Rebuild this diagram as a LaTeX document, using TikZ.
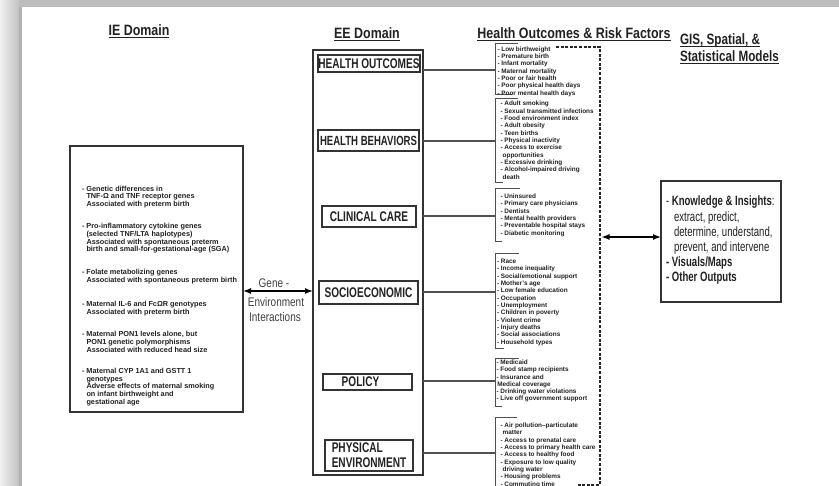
\documentclass[tikz,border=0pt]{standalone}
\usepackage{fontspec}
\setmainfont{Liberation Sans}
\newfontfamily\fT[FakeStretch=0.83]{Liberation Sans}
\newfontfamily\fG[FakeStretch=0.78]{Liberation Sans}
\newfontfamily\fE[FakeStretch=0.72]{Liberation Sans}
\newfontfamily\fK[FakeStretch=0.71]{Liberation Sans}
\newfontfamily\fN[FakeStretch=0.8]{Liberation Sans}
\usetikzlibrary{arrows.meta}
\definecolor{ink}{HTML}{222222}
\definecolor{edge}{HTML}{333333}
\definecolor{conn}{HTML}{505050}
\newcommand\myul[1]{\setbox0\hbox{#1}\rlap{\box0}\setbox0\hbox{#1}\rule[-2.2pt]{\wd0}{0.9pt}}
\newcommand\riskList[4]{%
  \foreach \o/\txt [count=\k] in {#4}{%
    \node[lst] (#1\k) at ({#2+\o}, {#3+(\k-1)*7.33}) {\txt};}}
\begin{document}
\begin{tikzpicture}[x=1pt,y=-1pt,
 every node/.style={inner sep=0pt,outer sep=0pt,text=ink},
 ttl/.style={font=\fT\bfseries\fontsize{15}{17}\selectfont, anchor=base},
 eeout/.style={draw=edge,line width=1.6pt},
 eein/.style={draw=edge,line width=1.3pt,font=\fE\bfseries\fontsize{14}{15}\selectfont},
 iebx/.style={draw=edge,line width=1.6pt},
 ietx/.style={font=\bfseries\fontsize{7.3}{8}\selectfont, anchor=mid west},
 lst/.style={font=\bfseries\fontsize{6.4}{7}\selectfont, anchor=mid west},
 cn/.style={draw=conn,line width=1.3pt},
 brk/.style={draw=conn,line width=1pt},
 dsh/.style={draw=black!85,line width=1.8pt,dash pattern=on 3pt off 1.6pt},
 kbx/.style={draw=edge,line width=2pt},
 ktx/.style={font=\fK\fontsize{13.5}{15}\selectfont, anchor=mid west},
 gn/.style={font=\fN\fontsize{12.5}{14}\selectfont, text=black!75},
 dar/.style={draw=black,line width=1.4pt,{Latex[length=8pt,width=6pt]}-{Latex[length=8pt,width=6pt]}},
]
\useasboundingbox (0,0) rectangle (839,486);
% background frame
\fill[white] (0,0) rectangle (839,486);
\shade[left color=black!6, right color=black!24] (0,0) rectangle (19,486);
\fill[black!30] (19,0) rectangle (22,486);
\fill[black!26] (19,0) rectangle (839,7);

% titles
\node[ttl] (tIE) at (139,36) {\myul{IE Domain}};
\node[ttl] (tEE) at (367,39) {\myul{EE Domain}};
\node[ttl] (tHO) at (574,39) {\myul{Health Outcomes \& Risk Factors}};
\node[ttl, font=\fG\bfseries\fontsize{15}{17}\selectfont, anchor=base west] (tG1) at (680,45) {\myul{GIS, Spatial, \&}};
\node[ttl, font=\fG\bfseries\fontsize{15}{17}\selectfont, anchor=base west] (tG2) at (680,62) {\myul{Statistical Models}};

% IE box
\node[iebx, minimum width=173pt, minimum height=266pt] (ie) at (156.5,279) {};
\foreach \yy/\xx/\txt [count=\k] in {
 188.5/82/{- Genetic differences in},
 196.2/86.5/{TNF-Ω and TNF receptor genes},
 203.9/86.5/{Associated with preterm birth},
 226/82/{- Pro-inflammatory cytokine genes},
 233.7/86.5/{(selected TNF/LTA haplotypes)},
 241.4/86.5/{Associated with spontaneous preterm},
 249.1/86.5/{birth and small-for-gestational-age (SGA)},
 272/82/{- Folate metabolizing genes},
 279.7/86.5/{Associated with spontaneous preterm birth},
 304/82/{- Maternal IL-6 and FcΩR genotypes},
 311.7/86.5/{Associated with preterm birth},
 334/82/{- Maternal PON1 levels alone, but},
 341.7/86.5/{PON1 genetic polymorphisms},
 349.4/86.5/{Associated with reduced head size},
 371/82/{- Maternal CYP 1A1 and GSTT 1},
 378.6/86.5/{genotypes},
 386.2/86.5/{Adverse effects of maternal smoking},
 393.8/86.5/{on infant birthweight and},
 401.4/86.5/{gestational age}}
 {\node[ietx] (iet\k) at (\xx,\yy) {\txt};}

% EE box
\node[eeout, minimum width=110pt, minimum height=425pt] (ee) at (368,262.5) {};
\node[eein, minimum width=102pt, minimum height=17pt] (ho) at (369,63.5) {HEALTH OUTCOMES};
\node[eein, minimum width=101pt, minimum height=21pt, font=\fE\bfseries\fontsize{13.3}{15}\selectfont] (hb) at (368.5,140.5) {HEALTH BEHAVIORS};
\node[eein, minimum width=94pt, minimum height=21pt] (cc) at (369,216.5) {CLINICAL CARE};
\node[eein, minimum width=99pt, minimum height=23pt] (se) at (368.5,292.5) {SOCIOECONOMIC};
\node[eein, minimum width=89pt, minimum height=16pt] (po) at (367.5,382) {POLICY\hspace*{14pt}};
\node[eein, minimum width=88pt, minimum height=31pt, align=left] (pe) at (369,455.5) {PHYSICAL\\ENVIRONMENT};

% bracket anchor points and connectors
\coordinate (b1) at (495,70);
\coordinate (b2) at (495,141);
\coordinate (b3) at (495,216);
\coordinate (b4) at (495,292);
\coordinate (b5) at (495,381);
\coordinate (b6) at (495,453);
\foreach \i in {1,...,6}{\draw[cn] (ee.east |- b\i) -- (b\i);}

% brackets
\draw[brk] (518,44) -- (495,44) -- (495,95) -- (512,95);
\draw[brk] (518,99) -- (495,99) -- (495,182.7) -- (503,182.7);
\draw[brk] (520,188.3) -- (495,188.3) -- (495,241.7) -- (502,241.7);
\draw[brk] (519,254) -- (495,254) -- (495,348.3) -- (504,348.3);
\draw[brk] (519,358.3) -- (495,358.3) -- (495,406.7) -- (502,406.7);
\draw[brk] (517,417.3) -- (495,417.3) -- (495,490);

% dashed frame
\draw[dsh] (556,47) -- (600,47) -- (600,485) -- (578,485);

% lists
\riskList{lho}{497.5}{48.5}{0/{- Low birthweight},0/{- Premature birth},0/{- Infant mortality},0/{- Maternal mortality},0/{- Poor or fair health},0/{- Poor physical health days},0/{- Poor mental health days}}
\riskList{lhb}{500.5}{103.3}{0/{- Adult smoking},0/{- Sexual transmitted infections},0/{- Food environment index},0/{- Adult obesity},0/{- Teen births},0/{- Physical inactivity},0/{- Access to exercise},2.2/{opportunities},0/{- Excessive drinking},0/{- Alcohol-impaired driving},2.2/{death}}
\riskList{lcc}{500.5}{196}{0/{- Uninsured},0/{- Primary care physicians},0/{- Dentists},0/{- Mental health providers},0/{- Preventable hospital stays},0/{- Diabetic monitoring}}
\riskList{lse}{497}{261}{0/{- Race},0/{- Income inequality},0/{- Social/emotional support},0/{- Mother's age},0/{- Low female education},0/{- Occupation},0/{- Unemployment},0/{- Children in poverty},0/{- Violent crime},0/{- Injury deaths},0/{- Social associations},0/{- Household types}}
\riskList{lpo}{496.5}{361.7}{0/{- Medicaid},0/{- Food stamp recipients},0/{- Insurance and},0.8/{Medical coverage},0/{- Drinking water violations},0/{- Live off government support}}
\riskList{lpe}{500.5}{425}{0/{- Air pollution--particulate},2.2/{matter},0/{- Access to prenatal care},0/{- Access to primary health care},0/{- Access to healthy food},0/{- Exposure to low quality},2.2/{driving water},0/{- Housing problems},0/{- Commuting time}}

% knowledge box
\node[kbx, minimum width=120pt, minimum height=121pt] (kb) at (721,241.5) {};
\node[ktx] (kb1) at (666,203.3) {- \textbf{Knowledge \& Insights}:};
\node[ktx] (kb2) at (674,218.5) {extract, predict,};
\node[ktx] (kb3) at (674,233.7) {determine, understand,};
\node[ktx] (kb4) at (674,248.9) {prevent, and intervene};
\node[ktx, font=\fK\bfseries\fontsize{13.5}{15}\selectfont] (kb5) at (666,264.1) {- Visuals/Maps};
\node[ktx, font=\fK\bfseries\fontsize{13.5}{15}\selectfont] (kb6) at (666,279.3) {- Other Outputs};

% gene-environment arrow
\node[gn] (g1) at (274,283) {Gene -};
\node[gn] (g2) at (276,302) {Environment};
\node[gn] (g3) at (275,317) {Interactions};
\coordinate (aL) at ([yshift=-12pt]ie.east);
\coordinate (aE) at (aL -| ee.west);
\draw[dar] (aL) -- (aE);

% right arrow
\coordinate (dR) at (601.5,237);
\coordinate (kL) at (dR -| kb.west);
\draw[dar] (dR) -- (kL);
\end{tikzpicture}
\end{document}
